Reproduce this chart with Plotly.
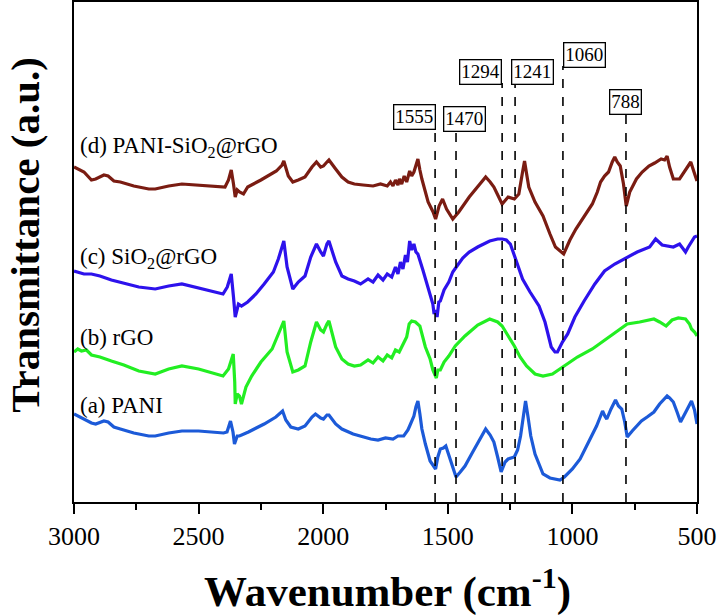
import plotly.graph_objects as go

# ---------------- data ----------------
# (wavenumber cm-1, transmittance a.u. with vertical offsets)
spec_d = [(3000, 335), (2960, 330), (2930, 322), (2913, 323), (2880, 327), (2863, 326), (2840, 321),
          (2814, 320), (2760, 316), (2700, 313), (2674, 313), (2620, 316), (2567, 318), (2500, 317),
          (2440, 316), (2394, 315), (2380, 322), (2369, 332), (2360, 318), (2353, 305), (2345, 312),
          (2336, 310), (2320, 308), (2303, 315), (2250, 322), (2188, 331), (2165, 337), (2158, 341),
          (2140, 326), (2122, 320), (2100, 322), (2073, 325), (2045, 335), (2027, 340), (2010, 335),
          (1999, 336), (1985, 340), (1977, 342), (1950, 333), (1925, 325), (1900, 320), (1875, 318),
          (1840, 317), (1800, 316), (1770, 318), (1743, 316), (1730, 320), (1720, 316), (1710, 322),
          (1700, 317), (1694, 323), (1685, 318), (1675, 326), (1665, 320), (1653, 331), (1645, 326),
          (1636, 330), (1628, 338), (1620, 343), (1612, 332), (1604, 323), (1579, 300), (1559, 290),
          (1549, 283), (1535, 296), (1521, 303), (1505, 293), (1480, 283), (1456, 290), (1414, 305),
          (1380, 315), (1348, 325), (1330, 320), (1315, 315), (1282, 298), (1258, 305), (1233, 303),
          (1215, 308), (1200, 330), (1192, 341), (1185, 330), (1175, 315), (1150, 300), (1118, 286),
          (1090, 268), (1068, 255), (1035, 248), (1010, 262), (986, 273), (950, 286), (920, 298),
          (900, 310), (887, 320), (871, 326), (855, 330), (840, 340), (830, 345), (820, 340),
          (808, 336), (795, 318), (784, 296), (770, 310), (743, 323), (720, 330), (693, 336),
          (670, 339), (644, 343), (630, 342), (620, 346), (610, 335), (595, 323), (570, 323),
          (545, 333), (525, 340), (512, 330), (500, 321)]

spec_c = [(3000, 231), (2960, 228), (2930, 228), (2896, 226), (2850, 222), (2800, 219), (2740, 215),
          (2674, 213), (2620, 216), (2567, 218), (2500, 214), (2440, 211), (2402, 208), (2385, 215),
          (2369, 228), (2360, 205), (2353, 185), (2340, 198), (2328, 196), (2303, 200), (2270, 208),
          (2237, 218), (2200, 230), (2180, 243), (2165, 255), (2158, 261), (2145, 235), (2122, 213),
          (2100, 220), (2073, 226), (2050, 245), (2027, 258), (2010, 250), (1999, 246), (1985, 258),
          (1977, 261), (1950, 240), (1925, 226), (1900, 223), (1875, 221), (1850, 218), (1820, 223),
          (1800, 220), (1780, 227), (1760, 222), (1743, 228), (1725, 225), (1710, 235), (1700, 228),
          (1690, 240), (1680, 233), (1670, 247), (1662, 240), (1653, 261), (1645, 252), (1636, 258),
          (1628, 250), (1620, 248), (1600, 232), (1579, 215), (1568, 205), (1560, 198), (1555, 188),
          (1549, 192), (1543, 185), (1536, 200), (1530, 201), (1515, 212), (1496, 220), (1480, 230),
          (1463, 236), (1440, 244), (1414, 250), (1380, 255), (1332, 261), (1300, 263), (1282, 263),
          (1265, 262), (1249, 258), (1230, 245), (1200, 223), (1170, 210), (1134, 196), (1110, 180),
          (1085, 155), (1070, 150), (1060, 150), (1040, 160), (1019, 168), (990, 185), (953, 201),
          (910, 218), (871, 231), (830, 238), (780, 245), (740, 250), (690, 255), (666, 263),
          (640, 257), (595, 255), (570, 258), (546, 250), (535, 255), (522, 261), (510, 265),
          (500, 266)]

spec_b = [(3000, 150), (2985, 153), (2970, 151), (2950, 152), (2930, 147), (2896, 145), (2850, 141),
          (2800, 137), (2740, 131), (2674, 128), (2620, 133), (2567, 136), (2500, 133), (2440, 129),
          (2402, 126), (2380, 133), (2361, 148), (2355, 120), (2353, 98), (2345, 108), (2336, 106),
          (2328, 98), (2310, 115), (2287, 126), (2250, 140), (2205, 153), (2175, 170), (2158, 181),
          (2145, 150), (2122, 130), (2100, 132), (2073, 136), (2050, 160), (2027, 180), (2010, 172),
          (1999, 170), (1985, 178), (1977, 181), (1950, 155), (1925, 143), (1900, 138), (1875, 136),
          (1850, 137), (1820, 142), (1800, 139), (1780, 145), (1760, 141), (1743, 147), (1725, 144),
          (1710, 152), (1695, 150), (1677, 160), (1665, 165), (1655, 178), (1645, 181), (1630, 180),
          (1612, 176), (1590, 155), (1571, 143), (1560, 132), (1552, 128), (1546, 124), (1540, 132),
          (1530, 132), (1515, 140), (1496, 146), (1470, 156), (1431, 166), (1380, 177), (1332, 183),
          (1300, 180), (1282, 176), (1260, 167), (1233, 156), (1210, 145), (1184, 136), (1150, 128),
          (1118, 126), (1080, 128), (1035, 136), (980, 145), (920, 153), (860, 164), (780, 178),
          (730, 180), (673, 183), (650, 180), (624, 176), (600, 182), (575, 184), (546, 183),
          (530, 178), (522, 173), (510, 170), (500, 166)]

spec_a = [(3000, 88), (2960, 83), (2930, 79), (2913, 78), (2880, 81), (2863, 80), (2840, 75),
          (2814, 73), (2760, 69), (2700, 66), (2674, 66), (2620, 69), (2567, 71), (2500, 71),
          (2440, 70), (2400, 69), (2386, 70), (2372, 81), (2362, 70), (2356, 58), (2345, 66),
          (2336, 66), (2300, 70), (2237, 78), (2190, 85), (2163, 91), (2150, 82), (2130, 75),
          (2100, 73), (2073, 76), (2045, 85), (2031, 88), (2010, 84), (1999, 83), (1985, 87),
          (1977, 87), (1950, 78), (1925, 73), (1880, 68), (1840, 65), (1809, 63), (1780, 62),
          (1750, 64), (1720, 63), (1700, 66), (1677, 66), (1660, 72), (1653, 76), (1636, 86),
          (1628, 95), (1620, 101), (1612, 88), (1604, 73), (1590, 58), (1571, 41), (1549, 33),
          (1540, 45), (1530, 53), (1518, 54), (1508, 56), (1498, 48), (1488, 40), (1467, 25),
          (1450, 30), (1431, 36), (1400, 50), (1370, 63), (1348, 73), (1330, 67), (1315, 60),
          (1300, 45), (1286, 30), (1270, 40), (1258, 43), (1233, 45), (1220, 52), (1208, 66),
          (1198, 85), (1188, 101), (1178, 85), (1167, 66), (1150, 48), (1118, 28), (1090, 24),
          (1068, 23), (1050, 22), (1032, 25), (1000, 33), (969, 43), (940, 57), (903, 76),
          (890, 84), (879, 91), (870, 86), (862, 83), (845, 93), (827, 102), (815, 96),
          (802, 93), (790, 80), (780, 65), (760, 71), (723, 81), (700, 85), (673, 90),
          (650, 98), (620, 106), (610, 104), (595, 100), (580, 90), (566, 80), (545, 90),
          (522, 101), (510, 92), (500, 78)]

series_names = ["(d) PANI-SiO<sub>2</sub>@rGO", "(c) SiO<sub>2</sub>@rGO", "(b) rGO", "(a) PANI"]
label_levels = [355, 244, 165, 97]

peak_labels = ["1555", "1470", "1294", "1241", "1060", "788"]
peak_line_wn = [1551, 1467, 1282, 1230, 1038, 785]
peak_line_top = [374, 372, 419, 419, 436, 389]
peak_box_wn = [1632, 1431, 1367, 1162, 953, 785]
peak_box_level = [385, 383, 430, 430, 447, 400]

x_ticks = [3000, 2500, 2000, 1500, 1000, 500]

# ---------------- figure ----------------
colors = ["#7a1c12", "#2d12ec", "#22ee22", "#1c5ad8"]
serif = "Liberation Serif, Times New Roman, serif"

fig = go.Figure()
for spec, c in zip([spec_d, spec_c, spec_b, spec_a], colors):
    wn, t = zip(*spec)
    fig.add_trace(go.Scatter(x=list(wn), y=list(t), mode="lines",
                             line=dict(color=c, width=3.2),
                             showlegend=False, hoverinfo="skip"))

for wx, top in zip(peak_line_wn, peak_line_top):
    fig.add_shape(type="line", xref="x", yref="y", x0=wx, x1=wx, y0=0, y1=top,
                  line=dict(color="black", width=1.6, dash="dash"))

for txt, bx, by in zip(peak_labels, peak_box_wn, peak_box_level):
    fig.add_annotation(x=bx, y=by, xref="x", yref="y", text=txt, showarrow=False,
                       font=dict(family=serif, size=19, color="black"),
                       bordercolor="black", borderwidth=1.3, borderpad=1, bgcolor="white")

for name, lvl in zip(series_names, label_levels):
    fig.add_annotation(x=2982, y=lvl, xref="x", yref="y", text=name, showarrow=False,
                       xanchor="left", font=dict(family=serif, size=23, color="black"))

# axis titles
fig.add_annotation(x=-0.079, y=0.534, xref="paper", yref="paper", textangle=-90,
                   text="<b>Transmittance (a.u.)</b>", showarrow=False,
                   xanchor="center", yanchor="middle",
                   font=dict(family=serif, size=41, color="black"))
fig.add_annotation(x=0.504, y=-0.172, xref="paper", yref="paper",
                   text="<b>Wavenumber (cm<sup>-1</sup>)</b>", showarrow=False,
                   xanchor="center", yanchor="middle",
                   font=dict(family=serif, size=43, color="black"))

fig.update_layout(
    width=718, height=616,
    margin=dict(l=74, r=21, t=2, b=114, autoexpand=False),
    paper_bgcolor="white", plot_bgcolor="white",
    font=dict(family=serif, color="black"),
)
fig.update_xaxes(
    range=[3000, 500], tickvals=x_ticks, ticktext=[str(v) for v in x_ticks],
    ticks="outside", ticklen=10, tickwidth=2, tickcolor="black",
    minor=dict(dtick=250, ticks="outside", ticklen=6, tickwidth=2, tickcolor="black"),
    showline=True, linecolor="black", linewidth=2, mirror=True,
    showgrid=False, zeroline=False, automargin=False,
    tickfont=dict(family=serif, size=26, color="black"),
)
fig.update_yaxes(
    range=[0, 500], showticklabels=False, ticks="",
    showline=True, linecolor="black", linewidth=2, mirror=True,
    showgrid=False, zeroline=False, automargin=False,
)

fig.write_html("out.html", config={"displayModeBar": False},
               post_script="document.body.style.margin='0';document.body.style.overflow='hidden';")
